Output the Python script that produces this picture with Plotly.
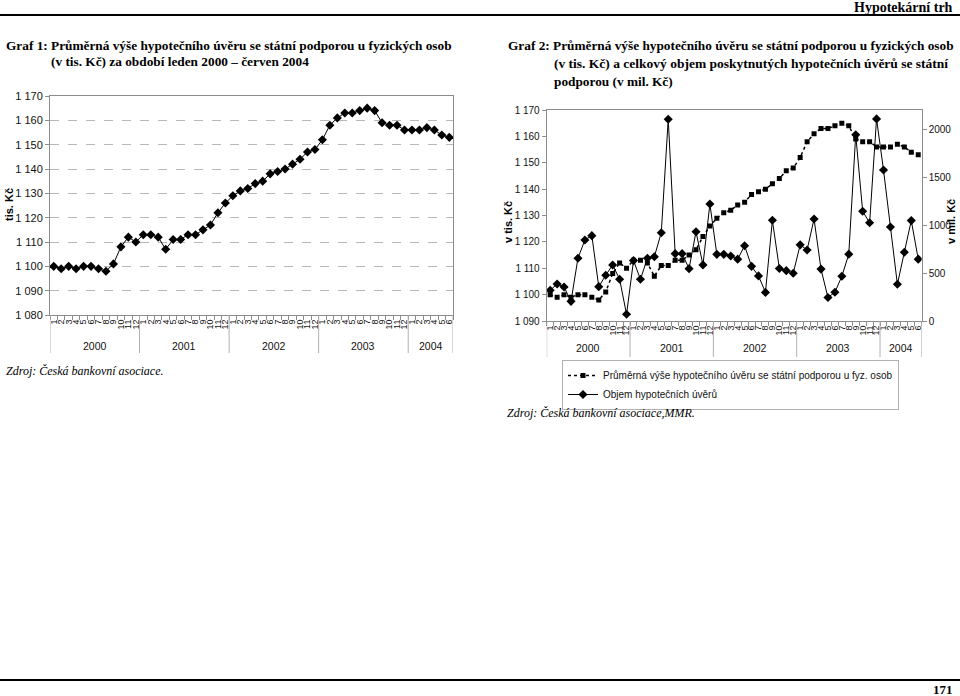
import plotly.graph_objects as go

# ---------------- data ----------------
months = [str(m) for m in range(1, 13)] * 4 + [str(m) for m in range(1, 7)]
year_labels = ["2000", "2001", "2002", "2003", "2004"]
year_counts = [12, 12, 12, 12, 6]

# average state-supported mortgage loan (thousand CZK)
avg_loan = [1100, 1099, 1100, 1099, 1100, 1100, 1099, 1098, 1101, 1108, 1112, 1110,
            1113, 1113, 1112, 1107, 1111, 1111, 1113, 1113, 1115, 1117, 1122, 1126,
            1129, 1131, 1132, 1134, 1135, 1138, 1139, 1140, 1142, 1144, 1147, 1148,
            1152, 1158, 1161, 1163, 1163, 1164, 1165, 1164, 1159, 1158, 1158, 1156,
            1156, 1156, 1157, 1156, 1154, 1153]

# volume of state-supported mortgage loans (million CZK)
volume = [320, 386, 355, 205, 654, 845, 890, 358, 477, 584, 435, 70,
          630, 435, 654, 670, 920, 2104, 702, 702, 546, 930, 585, 1220,
          695, 695, 678, 645, 784, 570, 470, 298, 1050, 548, 525, 498,
          794, 741, 1064, 541, 245, 300, 466, 697, 1942, 1144, 1024, 2107,
          1575, 980, 383, 717, 1047, 645]

name_avg = "Průměrná výše hypotečního úvěru se státní podporou u fyz. osob"
name_vol = "Objem hypotečních úvěrů"

# ---------------- layout helpers ----------------
W, H = 960, 696
def px(v):
    return v / W
def py(v):
    return 1 - v / H

SANS = "Arial, 'Liberation Sans', sans-serif"
SERIF = "'Times New Roman', 'Liberation Serif', serif"
AX = "#8c8c8c"
TXT = "#111111"

x = list(range(len(avg_loan)))

fig = go.Figure()
fig.add_trace(go.Scatter(
    x=x, y=avg_loan, xaxis="x", yaxis="y", mode="lines+markers", showlegend=False,
    line=dict(color="black", width=1), marker=dict(symbol="diamond", size=7, color="black")))
fig.add_trace(go.Scatter(
    x=x, y=avg_loan, xaxis="x2", yaxis="y2", mode="lines+markers", name=name_avg,
    line=dict(color="black", width=1.5, dash="dot"), marker=dict(symbol="square", size=5, color="black")))
fig.add_trace(go.Scatter(
    x=x, y=volume, xaxis="x2", yaxis="y3", mode="lines+markers", name=name_vol,
    line=dict(color="black", width=1), marker=dict(symbol="diamond", size=7, color="black")))

def xaxis_cfg(dom, anchor):
    return dict(domain=dom, anchor=anchor, range=[-0.5, len(x) - 0.5],
                tickmode="array", tickvals=x, ticktext=months, tickangle=-90,
                tickfont=dict(family=SANS, size=9, color=TXT), ticks="",
                showline=True, linecolor=AX, linewidth=1, mirror=True,
                showgrid=False, zeroline=False, fixedrange=True, automargin=False,
                minor=dict(ticks="outside", ticklen=4, tickcolor=AX,
                           tickmode="linear", tick0=-0.5, dtick=1, showgrid=False))

fig.update_layout(
    width=W, height=H, margin=dict(l=0, r=0, t=0, b=0, autoexpand=False),
    paper_bgcolor="white", plot_bgcolor="white", separators=", ",
    font=dict(family=SANS, color=TXT),
    xaxis=xaxis_cfg([px(50), px(453)], "y"),
    yaxis=dict(domain=[py(315), py(96)], anchor="x", range=[1080, 1170], dtick=10,
               tickformat=",d", ticks="outside", ticklen=4, tickcolor=AX,
               tickfont=dict(family=SANS, size=11, color=TXT),
               showgrid=True, gridcolor="#b8b8b8", griddash="dash", gridwidth=1,
               showline=True, linecolor=AX, mirror=True, zeroline=False,
               fixedrange=True, automargin=False),
    xaxis2=xaxis_cfg([px(546.7), px(921.7)], "y2"),
    yaxis2=dict(domain=[py(321), py(110)], anchor="x2", range=[1090, 1170], dtick=10,
                tickformat=",d", ticks="outside", ticklen=4, tickcolor=AX,
                tickfont=dict(family=SANS, size=10, color=TXT),
                showgrid=False, showline=True, linecolor=AX, mirror=True,
                zeroline=False, fixedrange=True, automargin=False),
    yaxis3=dict(overlaying="y2", side="right", anchor="x2", range=[0, 2200],
                tickvals=[0, 500, 1000, 1500, 2000], tickformat="d",
                ticks="outside", ticklen=4, tickcolor=AX,
                tickfont=dict(family=SANS, size=10, color=TXT),
                showgrid=False, showline=True, linecolor=AX, zeroline=False,
                fixedrange=True, automargin=False),
    legend=dict(x=px(562), y=py(360), xanchor="left", yanchor="top",
                bgcolor="white", bordercolor="#b0b0b0", borderwidth=1,
                font=dict(family=SANS, size=10, color=TXT), tracegroupgap=0,
                itemwidth=30),
    showlegend=True,
)

shapes = []
annotations = []

# year separators and labels for both charts
bounds = [-0.5]
for c in year_counts:
    bounds.append(bounds[-1] + c)
for xref, ytop, ybot, ylab in [("x", 315, 353, 346), ("x2", 321, 357, 348)]:
    for b in bounds:
        shapes.append(dict(type="line", xref=xref, yref="paper", x0=b, x1=b,
                           y0=py(ytop), y1=py(ybot), line=dict(color="#b0b0b0", width=1)))
    for i, lab in enumerate(year_labels):
        annotations.append(dict(xref=xref, yref="paper", x=(bounds[i] + bounds[i + 1]) / 2,
                                y=py(ylab), text=lab, showarrow=False,
                                font=dict(family=SANS, size=10.5, color=TXT)))

# page rules
shapes.append(dict(type="line", xref="paper", yref="paper", x0=0, x1=1, y0=py(15), y1=py(15),
                   line=dict(color="black", width=2)))
shapes.append(dict(type="line", xref="paper", yref="paper", x0=0, x1=1, y0=py(680), y1=py(680),
                   line=dict(color="black", width=2)))

def txt(xp, yp, text, size, family=SERIF, xanchor="left", bold=False, italic=False, angle=0):
    t = text
    if bold:
        t = "<b>" + t + "</b>"
    if italic:
        t = "<i>" + t + "</i>"
    annotations.append(dict(xref="paper", yref="paper", x=px(xp), y=py(yp), text=t,
                            showarrow=False, xanchor=xanchor, yanchor="middle",
                            textangle=angle, font=dict(family=family, size=size, color="black")))

txt(955, 7, "Hypotekární trh", 14, xanchor="right", bold=True)
txt(955, 689, "171", 13, xanchor="right", bold=True)

txt(4, 45, "Graf 1: Průměrná výše hypotečního úvěru se státní podporou u fyzických osob", 13.3, bold=True)
txt(49, 62, "(v tis. Kč) za období leden 2000 – červen 2004", 13.3, bold=True)

txt(506, 45, "Graf 2: Průměrná výše hypotečního úvěru se státní podporou u fyzických osob", 13.3, bold=True)
txt(552, 63, "(v tis. Kč) a celkový objem poskytnutých hypotečních úvěrů se státní", 13.5, bold=True)
txt(552, 81, "podporou (v mil. Kč)", 13.3, bold=True)

txt(9, 205, "tis. Kč", 11, family=SANS, xanchor="center", bold=True, angle=-90)
txt(508, 222, "v tis. Kč", 11, family=SANS, xanchor="center", bold=True, angle=-90)
txt(951, 222, "v mil. Kč", 11, family=SANS, xanchor="center", bold=True, angle=-90)

txt(4, 371, "Zdroj: Česká bankovní asociace.", 12, italic=True)
txt(505, 413, "Zdroj: Česká bankovní asociace,MMR.", 12, italic=True)

fig.update_layout(shapes=shapes, annotations=annotations)
fig.write_html(
    "out.html",
    config={"displayModeBar": False},
    post_script="document.body.style.margin='0';document.documentElement.style.overflow='hidden';",
)
